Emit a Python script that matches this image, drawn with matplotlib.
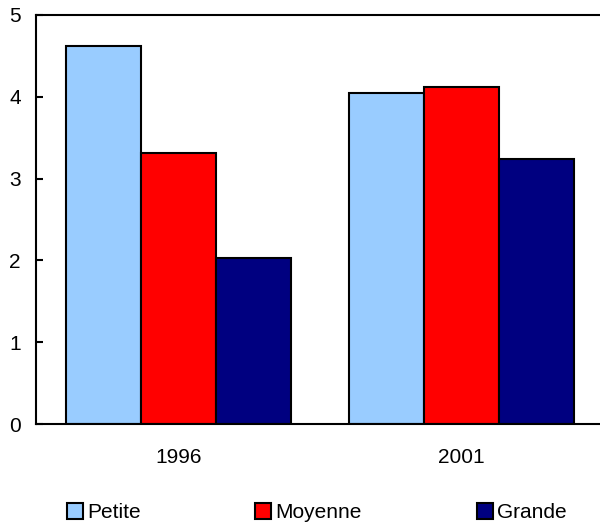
import numpy as np
import matplotlib
matplotlib.use("Agg")
import matplotlib.pyplot as plt

plt.rcParams['font.family'] = ['Liberation Sans', 'DejaVu Sans']

years = ["1996", "2001"]
series = ["Petite", "Moyenne", "Grande"]
petite = [4.62, 4.05]
moyenne = [3.31, 4.12]
grande = [2.03, 3.24]
colors = ["#99ccff", "#ff0000", "#000080"]

fig = plt.figure(figsize=(6, 5.23), dpi=100)
ax = fig.add_axes([36/600, 99/523, 572/600, 409/523])

x = np.arange(len(years))
w = 0.264
for i, (vals, name, c) in enumerate(zip([petite, moyenne, grande], series, colors)):
    ax.bar(x + (i - 1) * w, vals, width=w, color=c, edgecolor="black", linewidth=1.5, label=name)

x0 = -0.5 - 1.0/283
ax.set_xlim(x0, x0 + 572/283)
ax.set_ylim(0, 5)
ax.set_yticks([0, 1, 2, 3, 4, 5])
ax.set_xticks(x)
ax.set_xticklabels(years)
ax.tick_params(axis="y", direction="in", length=5, width=1.5, labelsize=15, pad=11)
ax.tick_params(axis="x", length=0, labelsize=15, pad=17)
for s in ax.spines.values():
    s.set_linewidth(1.5)

fig.legend(loc="center left", bbox_to_anchor=(67/600, 10.5/523), ncol=3, frameon=False,
           fontsize=15, handlelength=0.77, handleheight=0.77, handletextpad=0.2,
           columnspacing=5.5, borderpad=0, borderaxespad=0)

fig.savefig("out.png", dpi=100)
